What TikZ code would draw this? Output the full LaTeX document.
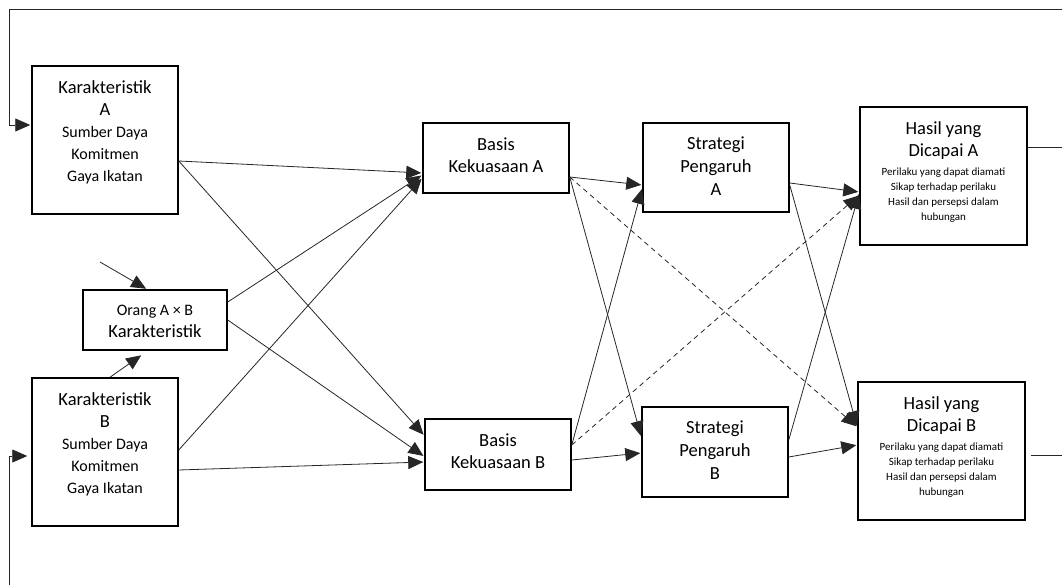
\documentclass[tikz,border=0pt]{standalone}
\usepackage{fontspec}
\setmainfont{Carlito}
\usetikzlibrary{arrows.meta,positioning}

\begin{document}
\begin{tikzpicture}[x=1pt,y=-1pt,
  kotak/.style={draw,line width=1.5pt,inner sep=0pt},
  isi/.style={align=center,inner sep=0pt,font=\fontsize{18.5}{22}\selectfont},
  kecil/.style={align=center,inner sep=0pt,font=\fontsize{11}{15}\selectfont},
  panah/.style={-{Triangle[length=15pt,width=13pt]},line width=0.8pt,draw=black!85,shorten >=1pt},
  putus/.style={panah,dash pattern=on 5pt off 4pt}]
\useasboundingbox (0,0) rectangle (1062,585);

% kotak
\node[kotak,minimum width=146pt,minimum height=148pt] (kA) at (105,140) {};
\node[kotak,minimum width=144pt,minimum height=60pt] (orang) at (155,320) {};
\node[kotak,minimum width=146pt,minimum height=148pt] (kB) at (105,452) {};
\node[kotak,minimum width=146pt,minimum height=70pt] (basA) at (496,158) {};
\node[kotak,minimum width=146pt,minimum height=71pt] (basB) at (498,454.5) {};
\node[kotak,minimum width=146pt,minimum height=89pt] (strA) at (716,167.5) {};
\node[kotak,minimum width=146pt,minimum height=90pt] (strB) at (715,452) {};
\node[kotak,minimum width=167pt,minimum height=138pt] (hasA) at (943.5,176) {};
\node[kotak,minimum width=167pt,minimum height=138pt] (hasB) at (941.5,451) {};

% tulisan
\node[isi,below=15pt of kA.north] (tkA) {Karakteristik\\A\\{\fontsize{16}{22}\selectfont Sumber Daya}\\{\fontsize{16}{22}\selectfont Komitmen}\\{\fontsize{16}{22}\selectfont Gaya Ikatan}};
\node[isi,below=16pt of orang.north] (torang) {{\fontsize{16}{22}\selectfont Orang A × B}\\Karakteristik};
\node[isi,below=15pt of kB.north] (tkB) {Karakteristik\\B\\{\fontsize{16}{22}\selectfont Sumber Daya}\\{\fontsize{16}{22}\selectfont Komitmen}\\{\fontsize{16}{22}\selectfont Gaya Ikatan}};
\node[isi,below=15pt of basA.north] (tbasA) {Basis\\Kekuasaan A};
\node[isi,below=15pt of basB.north] (tbasB) {Basis\\Kekuasaan B};
\node[isi,below=14pt of strA.north,font=\fontsize{18.5}{23}\selectfont] (tstrA) {Strategi\\Pengaruh\\A};
\node[isi,below=14pt of strB.north,font=\fontsize{18.5}{23}\selectfont] (tstrB) {Strategi\\Pengaruh\\B};
\node[isi,below=15pt of hasA.north] (thasA) {Hasil yang\\Dicapai A};
\node[kecil,below=61pt of hasA.north] (dhasA) {Perilaku yang dapat diamati\\Sikap terhadap perilaku\\Hasil dan persepsi dalam\\hubungan};
\node[isi,below=15pt of hasB.north] (thasB) {Hasil yang\\Dicapai B};
\node[kecil,below=61pt of hasB.north] (dhasB) {Perilaku yang dapat diamati\\Sikap terhadap perilaku\\Hasil dan persepsi dalam\\hubungan};

% ujung bebas
\coordinate (atasR) at (1062,9);
\coordinate (atasL) at (9,9);
\coordinate (bawahL) at (9,585);
\coordinate (keluarA) at (1062,147);
\coordinate (keluarB) at (1062,455);
\coordinate (masukO) at (100,262);

% panah
\draw[panah] ([yshift=-21pt]kA.east) -- ([yshift=-15pt]basA.west);
\draw[panah] ([yshift=-21pt]kA.east) -- ([yshift=19pt]basB.west);
\draw[panah] ([yshift=18pt]orang.east) -- ([yshift=-17pt]basA.west);
\draw[panah] (orang.east) -- ([yshift=-2pt]basB.west);
\draw[panah] ([yshift=2pt]kB.east) -- ([yshift=-20pt]basA.west);
\draw[panah] ([yshift=-18pt]kB.east) -- ([yshift=-7.5pt]basB.west);
\draw[panah] ([yshift=-19pt]basA.east) -- ([yshift=-17.5pt]strA.west);
\draw[panah] ([yshift=-19pt]basA.east) -- ([yshift=15pt]strB.west);
\draw[putus] ([yshift=-19pt]basA.east) -- ([yshift=24pt]hasB.west);
\draw[panah] ([yshift=9.5pt]basB.east) -- ([yshift=-20.5pt]strA.west);
\draw[putus] ([yshift=9.5pt]basB.east) -- ([yshift=-19pt]hasA.west);
\draw[panah] ([yshift=-5.5pt]basB.east) -- ([yshift=-1pt]strB.west);
\draw[panah] ([yshift=-15.5pt]strA.east) -- ([yshift=-16pt]hasA.west);
\draw[panah] ([yshift=-17.5pt]strA.east) -- ([yshift=24pt]hasB.west);
\draw[panah] ([yshift=12pt]strB.east) -- ([yshift=-17pt]hasA.west);
\draw[panah] ([yshift=-5pt]strB.east) -- ([yshift=6pt]hasB.west);
\draw[panah] (masukO) -- ([xshift=-8pt]orang.north);
\draw[panah] ([xshift=5pt]kB.north) -- ([xshift=-13pt,yshift=-4pt]orang.south);

% umpan balik
\draw[panah] (atasR) -- (atasL) |- ([yshift=15pt]kA.west);
\draw[line width=0.8pt,draw=black!85] ([yshift=29pt]hasA.east) -- (keluarA);
\draw[line width=0.8pt,draw=black!85] ([xshift=5pt,yshift=-4pt]hasB.east) -- (keluarB);
\draw[panah,shorten >=4pt] (bawahL) |- ([yshift=-4pt]kB.west);
\end{tikzpicture}
\end{document}
